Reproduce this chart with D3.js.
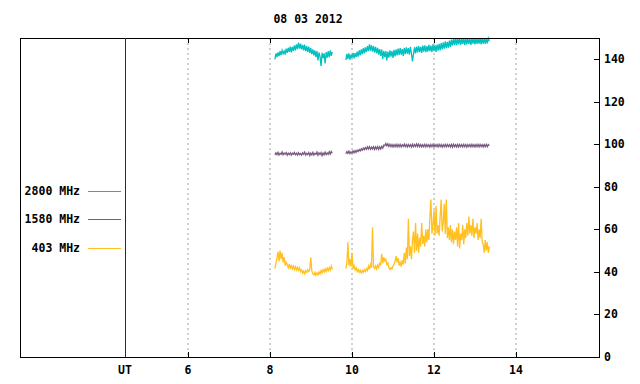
<!DOCTYPE html>
<html>
<head>
<meta charset="utf-8">
<script src="https://cdn.jsdelivr.net/npm/d3@7"></script>
<style>
  body { margin: 0; background: #fff; }
  text { font-family: "DejaVu Sans Mono", monospace; font-size: 11.5px; font-weight: bold; fill: #000; }
</style>
</head>
<body>
<script>
const width = 640;
const height = 384;
const title = "08 03 2012";

// x axis: hours UT
const hourTicks = [6, 8, 10, 12, 14];
const yTicks = [0, 20, 40, 60, 80, 100, 120, 140];

// two observing segments, one sample every 0.025 h
const segStart = [8.12, 9.85];
const sampleStep = 0.025;

const seriesNames = ["2800 MHz", "1580 MHz", "403 MHz"];
const seriesColors = ["#00c0c0", "#7a5a82", "#ffc020"];

const f2800a = [
    140.0, 142.8, 141.0, 143.2, 141.5, 143.8, 142.0, 144.2, 142.6, 143.9,
    142.2, 145.0, 143.0, 145.4, 143.5, 146.0, 143.2, 145.8, 144.0, 146.5,
    144.2, 147.0, 144.8, 147.8, 145.0, 147.4, 144.6, 146.8, 144.2, 146.9,
    143.8, 146.2, 143.5, 145.9, 143.0, 145.2, 142.4, 144.6, 141.8, 144.2,
    141.0, 143.8, 139.5, 143.2, 141.2, 136.8, 143.0, 140.5, 142.8, 138.0,
    143.4, 140.8, 143.8, 141.0, 144.2, 141.6, 143.5];
const f2800b = [
    139.6, 142.5, 140.2, 142.8, 139.8, 142.2, 140.6, 143.0, 140.4, 142.9,
    141.0, 143.6, 141.2, 144.2, 141.8, 144.6, 142.4, 145.2, 142.8, 145.6,
    143.4, 146.2, 143.8, 147.0, 144.0, 146.6, 143.6, 146.2, 143.2, 145.8,
    142.8, 145.4, 142.2, 144.8, 141.6, 144.6, 140.2, 144.0, 141.0, 143.8,
    139.5, 143.6, 140.8, 144.2, 141.2, 143.8, 140.6, 144.4, 141.4, 144.6,
    141.8, 145.0, 142.0, 145.2, 142.2, 144.8, 141.6, 145.4, 142.4, 145.6,
    142.6, 145.2, 142.2, 145.8, 142.8, 139.0, 142.4, 145.6, 142.8, 146.0,
    143.2, 146.2, 143.4, 145.8, 143.0, 146.4, 143.6, 146.6, 143.4, 146.2,
    143.6, 146.8, 143.8, 146.4, 143.4, 147.0, 143.9, 146.6, 143.5, 146.9,
    144.0, 147.2, 144.2, 147.6, 144.6, 148.0, 145.0, 148.4, 145.2, 148.2,
    145.4, 148.8, 145.8, 149.2, 146.4, 149.6, 146.8, 149.9, 146.6, 149.8,
    147.0, 149.9, 146.8, 149.6, 147.2, 149.9, 146.6, 149.8, 147.0, 149.9,
    147.2, 149.6, 146.8, 149.9, 147.4, 149.8, 147.0, 149.9, 147.2, 149.7,
    147.4, 149.9, 147.0, 149.8, 147.3, 149.9, 147.2, 149.8, 147.5, 149.9,
    148.6];

const f1580a = [
    95.0, 96.0, 95.2, 96.2, 95.0, 95.8, 95.3, 96.4, 95.1, 95.9,
    95.4, 96.1, 94.9, 95.8, 95.2, 96.0, 95.0, 95.9, 95.3, 96.2,
    95.1, 95.8, 95.0, 96.1, 95.2, 95.7, 94.9, 96.0, 95.3, 96.3,
    95.0, 95.8, 95.2, 96.1, 94.8, 95.9, 95.1, 96.2, 95.0, 95.8,
    95.3, 96.4, 94.9, 96.0, 95.2, 96.1, 94.7, 95.9, 95.1, 96.3,
    95.2, 96.0, 95.3, 96.5, 95.4, 96.6, 95.8];
const f1580b = [
    95.6, 96.6, 95.8, 96.8, 95.7, 96.5, 95.9, 96.9, 96.0, 97.0,
    96.2, 97.2, 96.6, 97.6, 96.9, 97.9, 97.2, 98.2, 97.5, 98.5,
    97.7, 98.8, 97.8, 98.9, 97.7, 98.7, 97.8, 98.9, 97.6, 98.8,
    97.8, 98.9, 97.7, 98.8, 97.8, 99.0, 98.2, 99.6, 99.4, 100.4,
    99.3, 100.2, 99.0, 100.0, 98.9, 99.9, 98.8, 99.8, 98.9, 100.0,
    98.8, 99.9, 98.9, 100.0, 98.8, 99.8, 99.0, 100.1, 98.9, 99.9,
    98.8, 99.9, 98.9, 99.8, 98.7, 100.0, 98.9, 99.9, 99.0, 100.2,
    99.0, 100.1, 98.9, 99.9, 98.8, 99.8, 98.9, 100.0, 98.8, 99.9,
    98.9, 99.8, 98.7, 99.9, 98.9, 100.0, 98.8, 99.8, 98.9, 99.9,
    98.8, 100.0, 98.9, 99.9, 98.7, 99.8, 98.9, 100.0, 98.8, 99.9,
    98.9, 99.8, 98.8, 99.9, 98.7, 100.0, 98.9, 99.8, 98.8, 99.9,
    98.7, 99.9, 98.9, 99.8, 98.8, 100.0, 98.9, 99.9, 98.7, 99.8,
    98.9, 99.9, 98.8, 100.0, 98.9, 99.8, 98.8, 99.9, 98.9, 100.0,
    98.8, 99.9, 98.9, 99.8, 98.8, 99.9, 98.9, 100.0, 98.9, 99.9,
    99.4];

const f403a = [
    41.5, 44, 46.5, 49.5, 45, 50, 46, 49, 44.5, 47,
    43, 44.5, 43.5, 42, 43.8, 41.8, 43, 41.5, 42.8, 41.2,
    42.5, 41, 42.2, 40.8, 42, 40.2, 41, 39.5, 40.4, 39.2,
    40.6, 39.8, 41, 40.2, 41.2, 46.8, 40.5, 39.2, 38.6, 39.8,
    38.4, 39.5, 38.6, 40, 39, 40.6, 39.6, 41, 40, 41.4,
    40.2, 41.8, 40.6, 42, 40.8, 42.8, 41.2];
const f403b = [
    41.5, 44, 54, 43, 46, 42.5, 49, 41.5, 43, 41,
    42, 40.2, 41.2, 39.8, 40.8, 39.5, 40.6, 39.8, 41, 40.2,
    41.5, 40.6, 42.8, 41.2, 43.5, 42, 61, 42.4, 41.6, 42.8,
    41.4, 43.2, 42, 44.5, 43, 48.5, 44, 47, 45.2, 46,
    43.5, 44.2, 42, 41.2, 42, 41.4, 42.8, 43.5, 45, 47.5,
    44.5, 46.5, 43, 44.5, 42.5, 45.5, 43.5, 49, 44, 51.5,
    46, 65, 47.5, 52, 46, 55, 59, 49, 63, 50,
    58, 49, 56, 52, 63, 53, 57, 52, 60, 54,
    60, 55, 66, 74, 58, 62, 69, 57, 71, 58,
    62, 57, 66, 74, 59, 63, 72, 58, 74, 56,
    61, 55, 62, 54, 60, 53, 59, 55, 61, 52,
    63, 51, 58, 55, 62, 53, 60, 56, 63, 57,
    66, 58, 62, 57, 65, 56, 61, 58, 63, 55,
    60, 56, 65, 54, 53, 49, 55, 50, 54, 49,
    52];

const seriesData = [[f2800a, f2800b], [f1580a, f1580b], [f403a, f403b]];

const frame = { left: 20, right: 599, top: 38, bottom: 357, divider: 125 };

let x = d3.scaleLinear().domain([6, 14]).range([188, 516]);
let y = d3.scaleLinear().domain([0, 150]).range([frame.bottom, frame.top]);

let svg = d3.select("body").append("svg")
    .attr("width", width)
    .attr("height", height);

svg.append("text")
    .attr("x", 308)
    .attr("y", 23)
    .attr("text-anchor", "middle")
    .text(title);

// dotted hour grid
svg.append("g").selectAll("line")
    .data(hourTicks)
    .join("line")
    .attr("x1", d => x(d)).attr("x2", d => x(d))
    .attr("y1", frame.top).attr("y2", frame.bottom)
    .attr("stroke", "#a0a0a0")
    .attr("stroke-dasharray", "2,3");

// tick marks top and bottom
let tk = svg.append("g").attr("stroke", "#000");
hourTicks.forEach(h => {
    tk.append("line").attr("x1", x(h) + 0.5).attr("x2", x(h) + 0.5).attr("y1", frame.top).attr("y2", frame.top + 5);
    tk.append("line").attr("x1", x(h) + 0.5).attr("x2", x(h) + 0.5).attr("y1", frame.bottom).attr("y2", frame.bottom - 5);
});
yTicks.forEach(v => {
    tk.append("line").attr("x1", frame.right - 5).attr("x2", frame.right).attr("y1", Math.round(y(v)) + 0.5).attr("y2", Math.round(y(v)) + 0.5);
});

svg.append("g").selectAll("text")
    .data(hourTicks)
    .join("text")
    .attr("x", d => x(d))
    .attr("y", 374)
    .attr("text-anchor", "middle")
    .text(d => d);

svg.append("text")
    .attr("x", frame.divider)
    .attr("y", 374)
    .attr("text-anchor", "middle")
    .text("UT");

svg.append("g").selectAll("text")
    .data(yTicks)
    .join("text")
    .attr("x", 604)
    .attr("y", d => y(d) + 4)
    .text(d => d);

// series
let line = d3.line()
    .x(d => x(d[0]))
    .y(d => y(d[1]));

seriesData.forEach((segs, i) => {
    segs.forEach((vals, j) => {
        let pts = vals.map((v, k) => [segStart[j] + k * sampleStep, v]);
        svg.append("path")
            .datum(pts)
            .attr("fill", "none")
            .attr("stroke", seriesColors[i])
            .attr("stroke-width", 1.3)
            .attr("d", line);
    });
});

// legend
let legendY = [191, 219, 248];
seriesNames.forEach((name, i) => {
    svg.append("text")
        .attr("x", 80)
        .attr("y", legendY[i] + 4)
        .attr("text-anchor", "end")
        .text(name);
    svg.append("line")
        .attr("x1", 88).attr("x2", 121)
        .attr("y1", legendY[i] + 0.5).attr("y2", legendY[i] + 0.5)
        .attr("stroke", seriesColors[i]);
});

// frame and UT divider
svg.append("rect")
    .attr("x", frame.left + 0.5)
    .attr("y", frame.top + 0.5)
    .attr("width", frame.right - frame.left)
    .attr("height", frame.bottom - frame.top)
    .attr("fill", "none")
    .attr("stroke", "#000");

svg.append("line")
    .attr("x1", frame.divider + 0.5).attr("x2", frame.divider + 0.5)
    .attr("y1", frame.top).attr("y2", frame.bottom)
    .attr("stroke", "#8b0000");
</script>
</body>
</html>
